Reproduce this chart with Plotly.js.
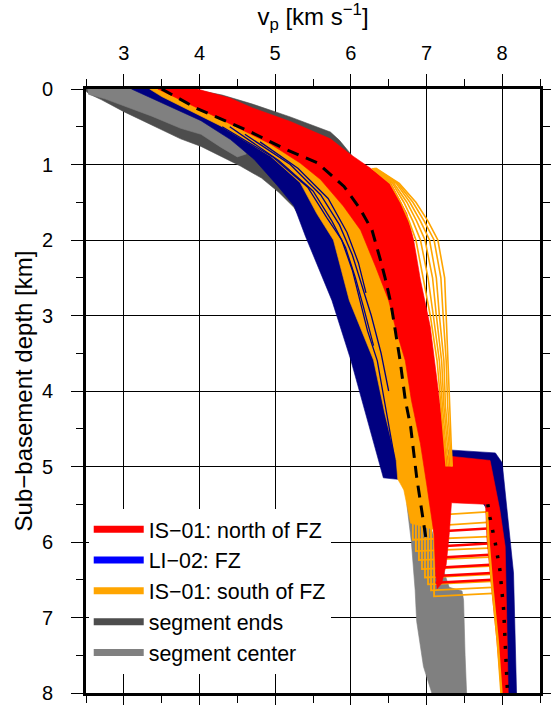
<!DOCTYPE html>
<html><head><meta charset="utf-8">
<script src="https://cdn.plot.ly/plotly-3.0.1.min.js"></script>
<style>html,body{margin:0;padding:0;background:#fff}#chart{width:551px;height:705px}</style>
</head><body><div id="chart"></div><script>
// ---------- data (vp in km/s, depth in km) ----------
const segEndsV = [2.5, 3.9, 4.3, 4.7, 5.2, 5.73, 5.85, 5.99, 6.1, 6.3, 6.3, 5.5, 5.25, 5.05, 4.82, 4.54, 4.3, 4.02, 3.75, 3.37, 3.0, 2.7, 2.55, 2.5];
const segEndsD = [0, 0, 0.08, 0.2, 0.37, 0.57, 0.68, 0.85, 1.0, 1.15, 2.0, 2.0, 1.57, 1.37, 1.18, 1.02, 0.9, 0.76, 0.66, 0.48, 0.3, 0.14, 0.07, 0.03];

const segCenterV = [2.52, 3.2, 3.5, 4.1, 4.5, 4.62, 4.5, 4.28, 4.02, 3.75, 3.37, 3.0, 2.75, 2.53];
const segCenterD = [0, 0, 0.14, 0.42, 0.67, 0.86, 0.9, 0.77, 0.6, 0.52, 0.36, 0.22, 0.13, 0.07];
const segCenterDeepV = [6.72, 7.0, 7.2, 7.3, 7.47, 7.49, 7.51, 7.53, 7.07, 6.96, 6.87, 6.85, 6.8, 6.74];
const segCenterDeepD = [5.3, 5.6, 6.3, 6.6, 6.65, 6.77, 7.5, 8.0, 8.0, 7.65, 7.05, 6.64, 6.0, 5.5];

const fzV = [3.10, 3.4, 4.02, 4.41, 4.72, 5.03, 5.25, 5.4, 5.56, 5.75, 6.0, 6.2, 6.43, 6.62, 6.75, 6.6, 6.45, 6.1, 5.95, 5.85, 5.7, 5.5, 5.1, 4.45, 3.6, 3.5];
const fzD = [0, 0.14, 0.42, 0.67, 0.93, 1.28, 1.55, 1.95, 2.35, 2.8, 3.59, 4.3, 5.15, 5.17, 4.9, 4.3, 3.59, 2.8, 2.26, 2.0, 1.65, 1.24, 0.89, 0.49, 0.05, 0];
const fzMantleV = [7.29, 7.91, 8.0, 8.06, 8.15, 8.19, 8.0, 7.9, 7.82, 7.5, 7.27];
const fzMantleD = [4.78, 4.82, 4.95, 5.53, 6.41, 8.0, 8.0, 6.6, 5.6, 5.1, 4.95];
const fzLines = [
  {v: [4.3, 4.97, 5.43, 5.68, 5.88, 6.02, 6.12, 6.22, 6.35, 6.42, 6.5, 6.58], d: [0.5, 0.9, 1.3, 1.7, 2.0, 2.4, 2.8, 3.2, 3.6, 4.0, 4.5, 4.9]},
  {v: [4.6, 5.2, 5.6, 5.85, 6.02, 6.15, 6.27, 6.4, 6.5], d: [0.6, 1.0, 1.4, 1.8, 2.2, 2.6, 3.0, 3.5, 4.0]},
  {v: [4.4, 5.05, 5.5, 5.75, 5.93, 6.06, 6.17, 6.3], d: [0.5, 0.95, 1.35, 1.75, 2.1, 2.5, 2.9, 3.4]},
  {v: [4.8, 5.3, 5.7, 5.95, 6.1, 6.2], d: [0.7, 1.05, 1.45, 1.9, 2.3, 2.7]}
];

const southV = [3.34, 3.5, 4.28, 4.94, 5.33, 5.55, 5.77, 5.84, 5.98, 6.3, 6.45, 6.6, 6.62, 6.65, 6.7, 6.79, 7.15, 7.1, 7.02, 6.92, 6.85, 6.75, 6.65, 6.5, 6.3, 6.1, 5.8, 5.5, 5.1, 4.5, 3.6];
const southD = [0, 0.1, 0.49, 0.89, 1.24, 1.65, 2.0, 2.26, 2.8, 3.59, 4.3, 4.92, 5.17, 5.22, 5.31, 5.75, 5.85, 5.22, 4.7, 4.12, 3.6, 3.2, 2.8, 2.36, 1.87, 1.55, 1.2, 0.98, 0.73, 0.4, 0];
const southDeepCrustV = [7.18, 7.2, 6.82, 6.86, 6.9, 6.94, 6.98, 7.02, 7.06, 7.1];
const southDeepTop = [5.5, 5.5, 5.7, 5.7, 5.7, 5.72, 5.74, 5.76, 5.78, 5.8];
const southDeepMohoL = [5.64, 5.78, 5.97, 6.12, 6.24, 6.36, 6.47, 6.56, 6.64, 6.72];
const southDeepMohoR = [5.6, 5.74, 5.93, 6.08, 6.2, 6.32, 6.43, 6.52, 6.6, 6.68];
const southDeepMantleV = [7.8, 7.8, 7.81, 7.82, 7.83, 7.84, 7.85, 7.86, 7.87, 7.88];
const southOutlierD = [1.05, 1.25, 1.5, 1.75, 2.0, 2.5, 3.0, 3.6, 4.2, 4.8, 5.0];
const southOutlierV = [
  [6.28, 6.52, 6.66, 6.77, 6.86, 6.96, 7.05, 7.14, 7.19, 7.24, 7.26],
  [6.29, 6.55, 6.70, 6.82, 6.92, 7.02, 7.09, 7.17, 7.21, 7.26, 7.28],
  [6.30, 6.57, 6.74, 6.87, 6.98, 7.08, 7.13, 7.20, 7.23, 7.28, 7.30],
  [6.31, 6.60, 6.78, 6.92, 7.04, 7.13, 7.17, 7.23, 7.25, 7.30, 7.32],
  [6.32, 6.62, 6.82, 6.97, 7.10, 7.19, 7.22, 7.26, 7.28, 7.32, 7.33],
  [6.33, 6.64, 6.86, 7.02, 7.15, 7.24, 7.26, 7.28, 7.30, 7.33, 7.34]
];
const southMantleV = [7.8, 7.82, 7.87, 7.94, 7.99];
const southMantleD = [5.6, 6.0, 6.6, 7.3, 8.0];

const northV = [3.45, 3.97, 4.4, 4.7, 5.2, 5.6, 5.73, 6.0, 6.26, 6.52, 6.74, 6.83, 6.92, 7.05, 7.16, 7.25, 7.27, 7.84, 7.97, 8.04, 8.06, 8.08,
  7.99, 7.93, 7.86, 7.8, 7.78, 7.33, 7.3, 7.26, 7.2, 7.14,
  7.12, 7.1, 7.0, 6.92, 6.8, 6.72, 6.6, 6.5, 6.33, 6.13, 5.9, 5.6, 5.33, 4.94, 4.28, 3.6, 3.45];
const northD = [0, 0, 0.12, 0.25, 0.43, 0.6, 0.66, 0.87, 1.05, 1.23, 1.65, 2.0, 2.53, 3.15, 4.03, 4.78, 4.86, 4.92, 5.58, 6.06, 7.0, 8.0,
  8.0, 7.3, 6.6, 5.97, 5.5, 5.48, 5.9, 6.3, 6.55, 6.62,
  6.4, 5.9, 5.22, 4.7, 4.12, 3.6, 3.2, 2.8, 2.36, 1.87, 1.55, 1.2, 0.98, 0.73, 0.4, 0.07, 0];
const northStepCrustV = [7.14, 7.14, 7.13, 7.13, 7.12, 7.12];
const northStepMantleV = [7.81, 7.82, 7.83, 7.84, 7.85, 7.86];
const northStepDL = [5.86, 6.06, 6.21, 6.34, 6.45, 6.54];
const northStepDR = [5.82, 6.02, 6.17, 6.3, 6.41, 6.5];

const dashV = [3.5, 3.97, 4.7, 5.12, 5.56, 5.91, 6.13, 6.28, 6.39, 6.45, 6.53, 6.65, 6.72, 6.79, 6.87, 6.98, 7.0];
const dashD = [0, 0.26, 0.58, 0.79, 0.98, 1.29, 1.6, 1.87, 2.26, 2.49, 2.84, 3.59, 4.12, 4.47, 5.14, 5.84, 6.0];
const dotV = [7.81, 7.84, 7.91, 7.97, 8.02, 8.05, 8.07];
const dotD = [5.5, 5.68, 6.02, 6.37, 6.9, 7.61, 7.98];

const legendNames = ['IS\u221201: north of FZ', 'LI\u221202: FZ', 'IS\u221201: south of FZ', 'segment ends', 'segment center'];
const legendColors = ['#ff0000', '#0000ff', '#ffa500', '#4d4d4d', '#808080'];

// ---------- styles ----------
const RED = '#ff0000', NAVY = '#000080', ORANGE = '#ffa500', DGRAY = '#4d4d4d', GRAY = '#808080';
const FONT = 'Liberation Sans, Arial, Helvetica, sans-serif';

function poly(v, d, color) {
  return {x: v, y: d, type: 'scatter', mode: 'lines', fill: 'toself', fillcolor: color,
          line: {color: color, width: 0.6}, hoverinfo: 'skip', showlegend: false};
}
function line(v, d, color, width, dash) {
  return {x: v, y: d, type: 'scatter', mode: 'lines',
          line: {color: color, width: width, dash: dash || 'solid'}, hoverinfo: 'skip', showlegend: false};
}

const traces = [];
traces.push(poly(segEndsV, segEndsD, DGRAY));
traces.push(poly(segCenterV, segCenterD, GRAY));
traces.push(poly(segCenterDeepV, segCenterDeepD, GRAY));
traces.push(poly(fzV, fzD, NAVY));
traces.push(poly(fzMantleV, fzMantleD, NAVY));
traces.push(poly(southV, southD, ORANGE));
for (let i = 0; i < southDeepCrustV.length; i++) {
  traces.push(line([southDeepCrustV[i], southDeepCrustV[i], southDeepMantleV[i]],
                   [southDeepTop[i], southDeepMohoL[i], southDeepMohoR[i]], ORANGE, 1.8));
}
fzLines.forEach(l => traces.push(line(l.v, l.d, NAVY, 1.3)));
traces.push(poly(northV, northD, RED));
for (let i = 0; i < northStepCrustV.length; i++) {
  traces.push(line([northStepCrustV[i], northStepMantleV[i]], [northStepDL[i], northStepDR[i]], RED, 2.5));
}
southOutlierV.forEach(v => traces.push(line(v, southOutlierD, ORANGE, 1.6)));
traces.push(line(southMantleV, southMantleD, ORANGE, 2.5));
traces.push(line(dashV, dashD, '#000000', 3, '12px,8px'));
traces.push(line(dotV, dotD, '#000000', 3.5, '3px,10px'));

legendNames.forEach((n, i) => {
  traces.push({x: [null], y: [null], type: 'scatter', mode: 'lines', name: n,
               legendgroup: 'g' + i, showlegend: true, hoverinfo: 'skip',
               line: {color: legendColors[i], width: 7}});
});

const axisCommon = {
  ticks: 'outside', ticklen: 12, tickwidth: 1, tickcolor: '#000',
  showline: true, linewidth: 3, linecolor: '#000', mirror: 'allticks',
  showgrid: true, gridcolor: '#000', gridwidth: 1, zeroline: false,
  tickfont: {size: 20, family: FONT, color: '#000'},
  minor: {dtick: 0.5, ticks: 'outside', ticklen: 7, tickwidth: 1, tickcolor: '#000', showgrid: false},
  layer: 'above traces', automargin: false
};

const layout = {
  width: 551, height: 705,
  margin: {l: 86, r: 11, t: 89, b: 12},
  paper_bgcolor: '#fff', plot_bgcolor: '#fff',
  font: {family: FONT, color: '#000'},
  xaxis: Object.assign({}, axisCommon, {
    side: 'top', range: [2.5, 8.5], dtick: 1, tick0: 3, ticklabelstandoff: 6,
    title: {text: 'v<sub>p</sub> [km s<sup>\u22121</sup>]', font: {size: 24, family: FONT}, standoff: 10}
  }),
  yaxis: Object.assign({}, axisCommon, {
    range: [8, 0], dtick: 1, tick0: 0, ticklabelstandoff: 14,
    title: {text: 'Sub\u2212basement depth [km]', font: {size: 24, family: FONT}, standoff: 3}
  }),
  legend: {x: 0.006, xanchor: 'left', y: 0.305, yanchor: 'top', bgcolor: '#fff', borderwidth: 0,
           font: {size: 21.4, family: FONT, color: '#000'}, itemwidth: 50,
           traceorder: 'grouped', tracegroupgap: 0},
  showlegend: true
};

Plotly.newPlot('chart', traces, layout, {staticPlot: true, displayModeBar: false});
</script></body></html>
